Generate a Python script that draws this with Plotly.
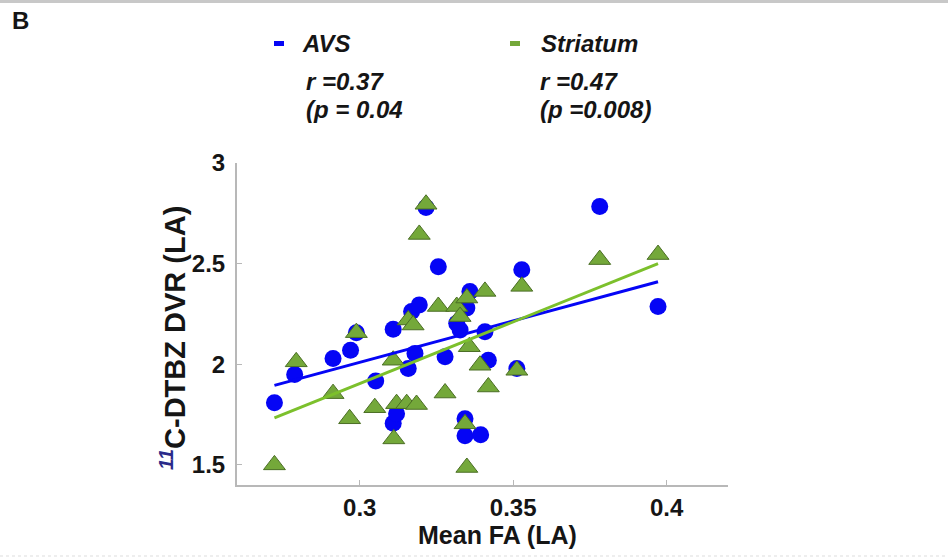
import plotly.graph_objects as go

# ---- data ----
avs_x = [0.2722, 0.2788, 0.2913, 0.2970, 0.2989, 0.3052, 0.3109, 0.3109, 0.3120,
         0.3158, 0.3180, 0.3169, 0.3194, 0.3216, 0.3256, 0.3278, 0.3316, 0.3327,
         0.3349, 0.3359, 0.3408, 0.3419, 0.3343, 0.3343, 0.3394, 0.3512, 0.3528,
         0.3782, 0.3972]
avs_y = [1.809, 1.949, 2.029, 2.070, 2.157, 1.917, 2.174, 1.707, 1.754,
         1.979, 2.054, 2.262, 2.295, 2.779, 2.484, 2.037, 2.204, 2.170,
         2.279, 2.362, 2.162, 2.020, 1.729, 1.645, 1.650, 1.979, 2.470,
         2.784, 2.287]

str_x = [0.2722, 0.2793, 0.2913, 0.2967, 0.2989, 0.3049, 0.3109, 0.3111, 0.3120,
         0.3153, 0.3185, 0.3158, 0.3174, 0.3194, 0.3216, 0.3256, 0.3278, 0.3316,
         0.3327, 0.3349, 0.3408, 0.3357, 0.3392, 0.3419, 0.3343, 0.3349, 0.3512,
         0.3528, 0.3782, 0.3972]
str_y = [1.500, 2.012, 1.854, 1.729, 2.157, 1.784, 2.020, 1.629, 1.804,
         1.804, 1.800, 2.220, 2.195, 2.645, 2.795, 2.287, 1.857, 2.287,
         2.237, 2.329, 2.362, 2.087, 1.995, 1.887, 1.704, 1.487, 1.970,
         2.387, 2.520, 2.545]

fit_x = [0.2722, 0.3972]
avs_fit = [1.895, 2.410]
str_fit = [1.733, 2.500]

x_ticks = [0.3, 0.35, 0.4]
x_tick_labels = ["0.3", "0.35", "0.4"]
y_ticks = [1.5, 2, 2.5, 3]
y_tick_labels = ["1.5", "2", "2.5", "3"]

BLUE = "#0505f5"
GREEN = "#74a83a"
GREEN_EDGE = "#4b6e25"
GREEN_LINE = "#7cc02c"
INK = "#151515"
FONT = "Liberation Sans, Arial, sans-serif"

W, H = 948, 558
L, R, T, B = 237, 728, 163, 485


def px(xp):
    return (xp - L) / (R - L)


def py(yp):
    return (B - yp) / (B - T)


fig = go.Figure()
fig.add_trace(go.Scatter(x=avs_x, y=avs_y, mode="markers", name="AVS",
                         marker=dict(symbol="circle", size=17, color=BLUE,
                                     line=dict(width=0)),
                         showlegend=False))
fig.add_trace(go.Scatter(x=str_x, y=str_y, mode="markers", name="Striatum",
                         marker=dict(symbol="triangle-up", size=19, color=GREEN,
                                     line=dict(width=1, color=GREEN_EDGE)),
                         showlegend=False))
fig.add_trace(go.Scatter(x=fit_x, y=avs_fit, mode="lines",
                         line=dict(color=BLUE, width=3), showlegend=False))
fig.add_trace(go.Scatter(x=fit_x, y=str_fit, mode="lines",
                         line=dict(color=GREEN_LINE, width=3), showlegend=False))

fig.update_xaxes(range=[0.26, 0.42], tickvals=x_ticks, ticktext=x_tick_labels,
                 showgrid=False, zeroline=False, showline=True, linecolor="#b8b8b8",
                 linewidth=2, ticks="inside", ticklen=5, tickcolor="#b8b8b8",
                 tickfont=dict(family=FONT, size=24, color=INK, weight="bold"))
fig.update_yaxes(range=[1.4, 3.0], tickvals=y_ticks, ticktext=y_tick_labels,
                 showgrid=False, zeroline=False, showline=True, linecolor="#b8b8b8",
                 linewidth=2, ticks="inside", ticklen=5, tickcolor="#b8b8b8",
                 tickfont=dict(family=FONT, size=24, color=INK, weight="bold"),
                 ticklabelstandoff=5)

fig.update_layout(
    width=W, height=H,
    margin=dict(l=L, r=W - R, t=T, b=H - B, autoexpand=False),
    plot_bgcolor="white", paper_bgcolor="white",
)

ann = []
ann.append(dict(text="<b>B</b>", x=px(10), y=py(21), xanchor="left", yanchor="middle",
                font=dict(family=FONT, size=24, color=INK)))
texts = [
    ("<b><i>AVS</i></b>", 300, 44),
    ("<b><i>r =0.37</i></b>", 304, 81),
    ("<b><i>(p = 0.04</i></b>", 304, 109),
    ("<b><i>Striatum</i></b>", 539, 44),
    ("<b><i>r =0.47</i></b>", 538, 81),
    ("<b><i>(p =0.008)</i></b>", 538, 109),
]
for t, xx, yy in texts:
    ann.append(dict(text=t, x=px(xx), y=py(yy), xanchor="left", yanchor="middle",
                    font=dict(family=FONT, size=24, color=INK)))
# axis titles
ann.append(dict(text="<b>Mean FA (LA)</b>", x=px(497), y=py(535), xanchor="center",
                yanchor="middle", font=dict(family=FONT, size=25, color=INK)))
ann.append(dict(text="<b><sup><i style='color:#2a2a8a'>11</i></sup>C-DTBZ DVR (LA)</b>",
                x=px(173), y=py(338), xanchor="center", yanchor="middle", textangle=-90,
                font=dict(family=FONT, size=29, color=INK)))
for a in ann:
    a.update(xref="paper", yref="paper", showarrow=False)
fig.update_layout(annotations=ann)

shapes = [
    dict(type="rect", xref="paper", yref="paper", x0=px(274), x1=px(284), y0=py(46), y1=py(41),
         fillcolor=BLUE, line=dict(width=0)),
    dict(type="rect", xref="paper", yref="paper", x0=px(510), x1=px(520), y0=py(46), y1=py(41),
         fillcolor=GREEN, line=dict(width=0)),
    dict(type="line", xref="paper", yref="paper", x0=px(0), x1=px(W), y0=py(1.5), y1=py(1.5),
         line=dict(color="#c8c8c8", width=3)),
    dict(type="line", xref="paper", yref="paper", x0=px(0), x1=px(W), y0=py(556), y1=py(556),
         line=dict(color="#dddddd", width=1, dash="dot")),
]
fig.update_layout(shapes=shapes)

fig.write_html("out.html", config={"displayModeBar": False},
               post_script="document.body.style.margin='0';document.body.style.overflow='hidden';")
